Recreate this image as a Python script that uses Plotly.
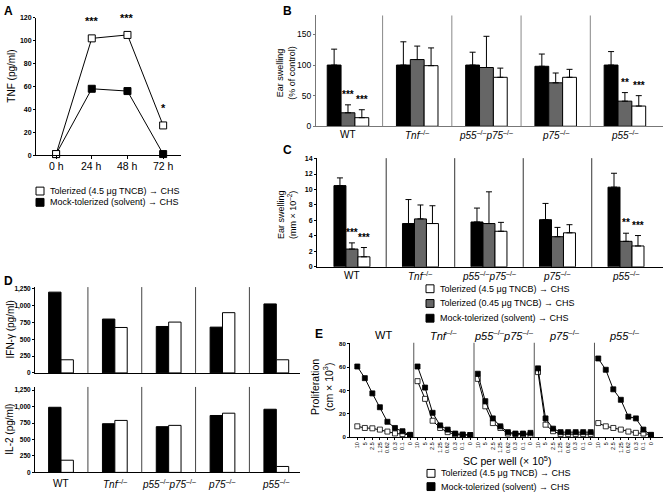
import plotly.graph_objects as go

W, H = 664, 498
FONT = "Liberation Sans, Arial, Helvetica, sans-serif"


def px(x):
    return x / W


def py(y):
    return 1 - y / H


# ---------------- data ----------------
# Panel A
a_times = [0, 24, 48, 72]
a_time_labels = ["0 h", "24 h", "48 h", "72 h"]
a_tolerized = [1, 102, 105, 26]
a_mock = [1, 58, 56, 1]
a_stars = ["", "***", "***", "*"]

# Strains (B, C, D, E)
strains = ["WT",
           "<i>Tnf</i><sup>–/–</sup>",
           "<i>p55</i><sup>–/–</sup><i>p75</i><sup>–/–</sup>",
           "<i>p75</i><sup>–/–</sup>",
           "<i>p55</i><sup>–/–</sup>"]

# Panel B: ear swelling (% of control)
b_mock = [100, 100, 100, 98, 100]
b_mock_err = [26, 38, 21, 20, 22]
b_tol045 = [22, 109, 96, 71, 41]
b_tol045_err = [13, 22, 51, 16, 14]
b_tol45 = [14, 99, 80, 80, 33]
b_tol45_err = [13, 29, 15, 13, 17]
b_stars045 = ["***", "", "", "", "**"]
b_stars45 = ["***", "", "", "", "***"]

# Panel C: ear swelling (mm x 10^-2)
c_mock = [10.5, 5.6, 5.8, 6.1, 10.3]
c_mock_err = [1.0, 3.1, 1.8, 2.1, 1.8]
c_tol045 = [2.3, 6.2, 5.6, 3.9, 3.3]
c_tol045_err = [0.8, 1.8, 4.1, 1.2, 1.05]
c_tol45 = [1.3, 5.6, 4.6, 4.4, 2.7]
c_tol45_err = [1.2, 2.3, 1.15, 1.05, 1.35]
c_stars045 = ["***", "", "", "", "**"]
c_stars45 = ["***", "", "", "", "***"]

# Panel D: cytokines (pg/ml)
d_ifn_mock = [1200, 800, 690, 680, 1025]
d_ifn_tol = [195, 675, 755, 895, 195]
d_il2_mock = [990, 740, 695, 865, 960]
d_il2_tol = [185, 790, 715, 900, 90]

# Panel E: proliferation (cm x 10^3)
e_doses = ["10", "5", "2.5", "1.25", "0.62", "0.3", "0.1", "0"]
e_titles = ["WT", "<i>Tnf</i><sup>–/–</sup>",
            "<i>p55</i><sup>–/–</sup><i>p75</i><sup>–/–</sup>",
            "<i>p75</i><sup>–/–</sup>", "<i>p55</i><sup>–/–</sup>"]
e_mock = [
    [60.6, 50.6, 37.5, 25.6, 13.1, 7.8, 5.0, 1.7],
    [60.6, 42.5, 20.8, 10.0, 6.4, 3.0, 2.2, 1.7],
    [54.4, 30.8, 16.0, 9.2, 4.2, 3.0, 3.0, 3.6],
    [59.0, 16.0, 7.2, 4.2, 4.2, 4.2, 4.2, 4.2],
    [67.5, 57.8, 41.0, 32.0, 17.5, 16.0, 6.4, 1.7],
]
e_tol = [
    [9.2, 7.8, 7.5, 6.4, 4.7, 3.1, 2.5, 1.9],
    [48.0, 32.8, 14.0, 7.8, 4.2, 2.2, 1.7, 1.7],
    [50.0, 26.4, 12.0, 7.8, 3.0, 2.5, 2.2, 1.9],
    [55.8, 10.6, 5.0, 2.5, 2.5, 2.5, 2.5, 2.5],
    [12.0, 9.2, 7.8, 6.4, 4.7, 3.6, 3.0, 1.9],
]

BLACK = "#000000"
GRAY = "#666666"
WHITE = "#ffffff"

fig = go.Figure()
annotations = []
shapes = []


def ann(text, x, y, size=9, bold=False, xref="paper", yref="paper", xanchor="center",
        yanchor="middle", angle=0, yshift=0):
    annotations.append(dict(
        text=text, x=x, y=y, xref=xref, yref=yref, showarrow=False,
        xanchor=xanchor, yanchor=yanchor, textangle=angle, yshift=yshift,
        font=dict(family=FONT, size=size, color="black",
                  weight="bold" if bold else "normal"),
    ))


# ---------------- Panel A ----------------
for vals, fill in [(a_mock, BLACK), (a_tolerized, WHITE)]:
    fig.add_trace(go.Scatter(
        x=a_times, y=vals, mode="lines+markers", xaxis="x", yaxis="y",
        line=dict(color="black", width=1),
        marker=dict(symbol="square", size=7, color=fill, line=dict(color="black", width=1)),
        showlegend=False, cliponaxis=False, hoverinfo="skip"))
for t, v, s in zip(a_times, a_tolerized, a_stars):
    if s:
        ann(s, t, v, size=11, bold=True, xref="x", yref="y", yanchor="bottom", yshift=9)
for t, lab in zip(a_times, a_time_labels):
    ann(lab, t, py(165), size=10.5, xref="x")

# ---------------- bar helper ----------------


def bars(xa, ya, series, width):
    n = len(series)
    start = -width * n / 2
    for k, (vals, errs, color, stars) in enumerate(series):
        off = start + k * width
        fig.add_trace(go.Bar(
            x=list(range(len(vals))), y=vals, width=width, offset=off,
            xaxis=xa, yaxis=ya, marker=dict(color=color, line=dict(color="black", width=1)),
            error_y=None if errs is None else dict(
                type="data", symmetric=False, array=errs, arrayminus=[0] * len(errs),
                color="black", thickness=1, width=3),
            showlegend=False, hoverinfo="skip"))
        if stars:
            for i, s in enumerate(stars):
                if s:
                    ann(s, i + off + width / 2, vals[i] + errs[i], size=10, bold=True,
                        xref=xa, yref=ya, yanchor="bottom", yshift=3)


def cat_labels(xa, y):
    for i, s in enumerate(strains):
        ann(s, i, py(y), size=10, xref=xa)


# ---------------- Panel B ----------------
bars("x2", "y2", [
    (b_mock, b_mock_err, BLACK, None),
    (b_tol045, b_tol045_err, GRAY, b_stars045),
    (b_tol45, b_tol45_err, WHITE, b_stars45),
], 0.2)
cat_labels("x2", 133)

# ---------------- Panel C ----------------
bars("x3", "y3", [
    (c_mock, c_mock_err, BLACK, None),
    (c_tol045, c_tol045_err, GRAY, c_stars045),
    (c_tol45, c_tol45_err, WHITE, c_stars45),
], 0.175)
cat_labels("x3", 277)

# ---------------- Panel D ----------------
bars("x4", "y4", [(d_ifn_mock, None, BLACK, None), (d_ifn_tol, None, WHITE, None)], 0.23)
bars("x5", "y5", [(d_il2_mock, None, BLACK, None), (d_il2_tol, None, WHITE, None)], 0.23)
cat_labels("x5", 488.5)

# ---------------- Panel E ----------------
nd = len(e_doses)
for p in range(len(e_titles)):
    xs = [p * nd + j for j in range(nd)]
    for vals, fill in [(e_tol[p], WHITE), (e_mock[p], BLACK)]:
        fig.add_trace(go.Scatter(
            x=xs, y=vals, mode="lines+markers", xaxis="x6", yaxis="y6",
            line=dict(color="black", width=1),
            marker=dict(symbol="square", size=5, color=fill, line=dict(color="black", width=0.8)),
            showlegend=False, cliponaxis=False, hoverinfo="skip"))
    ann(e_titles[p], p * nd + (nd - 1) / 2, py(337), size=11, xref="x6")
    if p > 0:
        shapes.append(dict(type="line", xref="x6", yref="y6 domain", x0=p * nd - 0.5,
                           x1=p * nd - 0.5, y0=0, y1=1, line=dict(color="#555", width=1)))

# separators for grouped panels
for xa, ya, col in [("x2", "y2", "#888"), ("x3", "y3", "#333"), ("x4", "y4", "#444"),
                    ("x5", "y5", "#444")]:
    for i in range(len(strains) - 1):
        shapes.append(dict(type="line", xref=xa, yref=ya + " domain", x0=i + 0.5, x1=i + 0.5,
                           y0=0, y1=1, line=dict(color=col, width=1)))

# ---------------- axes ----------------


def yax(domain, anchor, rng, tickvals, fmt=None, linecolor="black", size=6, bold=True):
    d = dict(domain=domain, anchor=anchor, range=rng, tickvals=tickvals, showgrid=False,
             zeroline=False, showline=True, linecolor=linecolor, linewidth=1,
             ticks="outside", ticklen=2, tickcolor=linecolor,
             tickfont=dict(family=FONT, size=size, color="black",
                           weight="bold" if bold else "normal"))
    if fmt:
        d["tickformat"] = fmt
    return d


def xax(domain, anchor, rng, tickvals=None, ticktext=None, linecolor="black", font=None,
        ticks="", show=False):
    return dict(domain=domain, anchor=anchor, range=rng, tickvals=tickvals, ticktext=ticktext,
                showgrid=False, zeroline=False, showline=True, linecolor=linecolor, linewidth=1,
                ticks=ticks, ticklen=3, tickcolor=linecolor, showticklabels=show,
                tickfont=font or dict(family=FONT, size=10, color="black"))


layout = dict(
    width=W, height=H, margin=dict(l=0, r=0, t=0, b=0),
    paper_bgcolor="white", plot_bgcolor="rgba(0,0,0,0)", barmode="overlay",
    showlegend=False, font=dict(family=FONT, color="black"),
    xaxis=xax([px(36), px(181)], "y", [-13.5, 84], a_times, ticks="outside"),
    yaxis=yax([py(154), py(14)], "x", [0, 120], [0, 20, 40, 60, 80, 100, 120], size=7),
    xaxis2=xax([px(316), px(663)], "y2", [-0.462, 4.55], linecolor="#777"),
    yaxis2=yax([py(124.5), py(11.7)], "x2", [0, 181], [0, 50, 100, 150], linecolor="#777",
               size=8.5, bold=False),
    xaxis3=xax([px(317), px(663)], "y3", [-0.51, 4.54]),
    yaxis3=yax([py(267.7), py(157)], "x3", [0, 14.05], [0, 2, 4, 6, 8, 10, 12, 14], size=7),
    xaxis4=xax([px(35), px(300)], "y4", [-0.483, 4.44]),
    yaxis4=yax([py(375.7), py(288.3)], "x4", [0, 1275], [0, 250, 500, 750, 1000, 1250],
               fmt=",", size=6.5),
    xaxis5=xax([px(35), px(300)], "y5", [-0.483, 4.44]),
    yaxis5=yax([py(477), py(390)], "x5", [0, 1299], [0, 250, 500, 750, 1000, 1250],
               fmt=",", size=6.5),
    xaxis6=xax([px(350), px(663)], "y6", [-0.97, 40.6], list(range(nd * 5)), e_doses * 5,
               ticks="outside", font=dict(family=FONT, size=5.5, color="black"), show=True),
    yaxis6=yax([py(441), py(345)], "x6", [0, 81], [0, 20, 40, 60, 80], size=6),
)
layout["xaxis6"]["tickangle"] = -90
layout["xaxis6"]["ticklen"] = 2

# ---------------- text labels ----------------
ann("A", px(8), py(7), size=12, bold=True)
ann("B", px(287), py(7), size=12, bold=True)
ann("C", px(287), py(149), size=12, bold=True)
ann("D", px(8), py(282), size=12, bold=True)
ann("E", px(319), py(336), size=12, bold=True)

ann("TNF (pg/ml)", px(12), py(74), size=10, angle=-90)
ann("Ear swelling<br>(% of control)", px(286), py(70), size=9, angle=-90)
ann("Ear swelling<br>(mm × 10<sup>–2</sup>)", px(287), py(215), size=9, angle=-90)
ann("IFN-γ (pg/ml)", px(9.5), py(332), size=10, angle=-90)
ann("IL-2 (pg/ml)", px(9.5), py(433), size=10, angle=-90)
ann("Proliferation<br>(cm × 10<sup>3</sup>)", px(322), py(390), size=10.5, angle=-90)
ann("SC per well (× 10<sup>5</sup>)", px(507), py(465), size=10.5)


def legend_item(x, y, color, text, sq=8, size=9):
    shapes.append(dict(type="rect", xref="paper", yref="paper",
                       x0=px(x), x1=px(x + sq), y0=py(y + sq / 2), y1=py(y - sq / 2),
                       fillcolor=color, line=dict(color="black", width=1)))
    ann(text, px(x + sq + 4), py(y), size=size, xanchor="left")


legend_item(36, 190.5, WHITE, "Tolerized (4.5 μg TNCB) → CHS")
legend_item(36, 202, BLACK, "Mock-tolerized (solvent) → CHS")
legend_item(426, 290, WHITE, "Tolerized (4.5 μg TNCB) → CHS")
legend_item(426, 305, GRAY, "Tolerized (0.45 μg TNCB) → CHS")
legend_item(426, 320, BLACK, "Mock-tolerized (solvent) → CHS")
legend_item(427, 478, WHITE, "Tolerized (4.5 μg TNCB) → CHS")
legend_item(427, 491.5, BLACK, "Mock-tolerized (solvent) → CHS")

layout["annotations"] = annotations
layout["shapes"] = shapes
fig.update_layout(**layout)
fig.write_html("out.html", config={"displayModeBar": False},
               post_script="document.body.style.margin='0px';document.body.style.padding='0px';")
